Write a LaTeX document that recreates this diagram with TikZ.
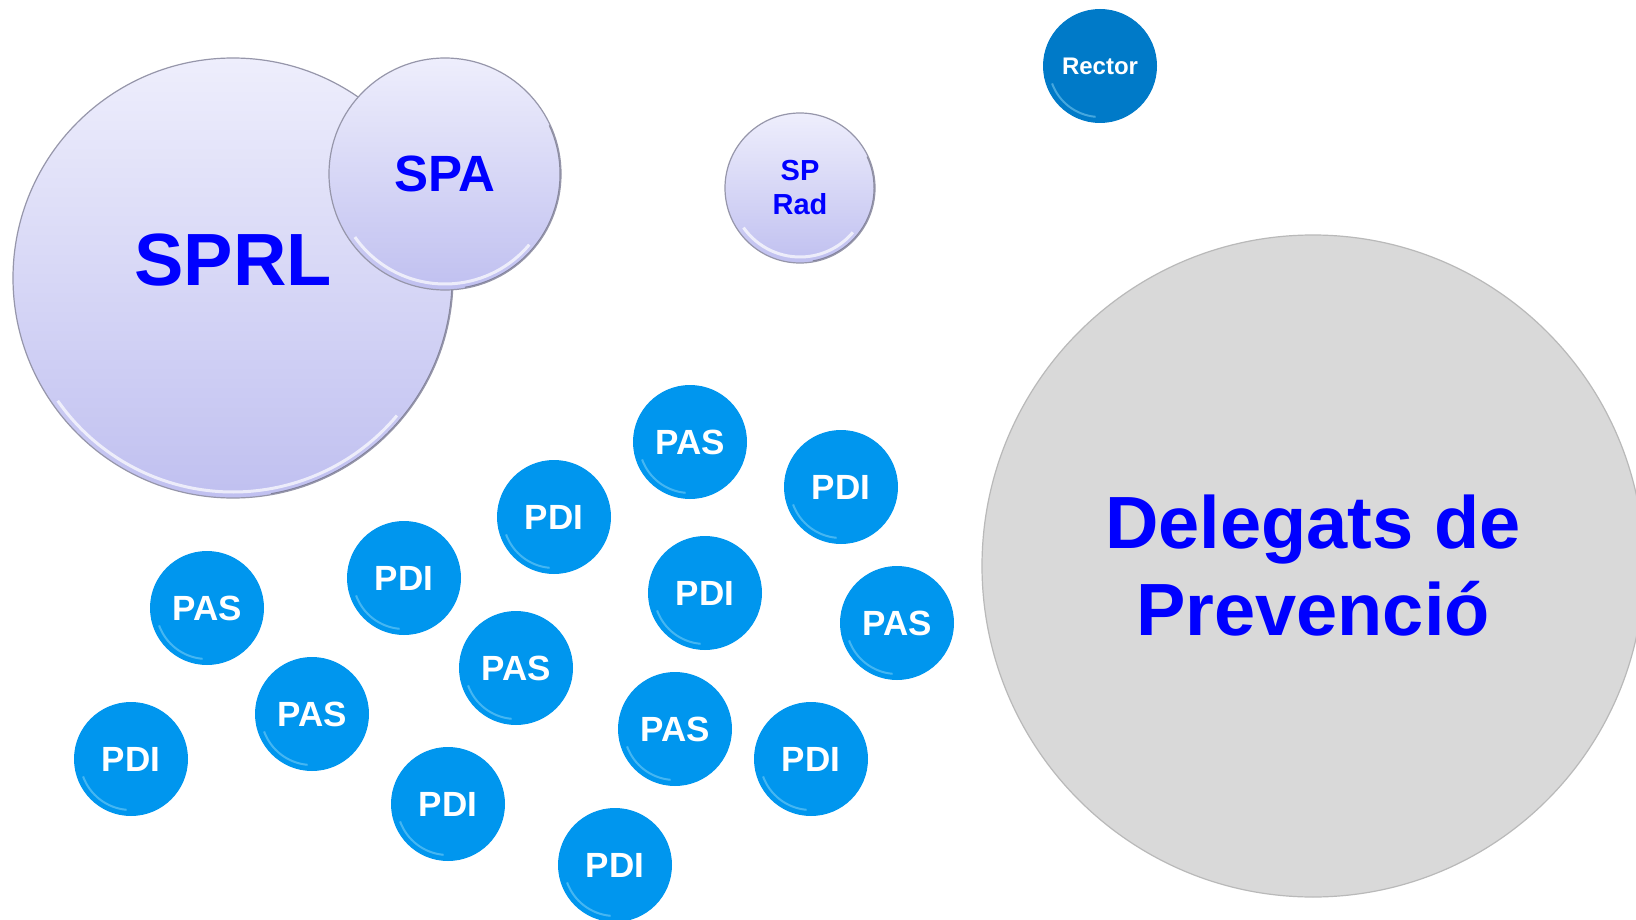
\documentclass[tikz,border=0pt]{standalone}
\usepackage{fontspec}
\setmainfont{Liberation Sans}
\usepackage{tikz}

\definecolor{bubbleblue}{RGB}{0,150,238}
\definecolor{rectorblue}{RGB}{0,122,200}
\definecolor{lavtop}{RGB}{238,238,252}
\definecolor{lavbottom}{RGB}{192,192,240}
\definecolor{lavrim}{RGB}{150,150,170}
\definecolor{lavdark}{RGB}{85,85,100}
\definecolor{delgray}{RGB}{217,217,217}
\definecolor{labelblue}{RGB}{0,0,255}

\tikzset{
	bubble/.style={circle, minimum size=114pt, inner sep=0pt, fill=bubbleblue, text=white,
		font=\fontsize{35}{40}\selectfont\bfseries,
		path picture={\draw[cyan!40!white, line width=2pt, opacity=.45] (path picture bounding box.center) ++(200:51pt) arc[start angle=200, end angle=265, radius=51pt];}},
	glass/.style={circle, minimum size={2*#1pt}, inner sep=0pt, top color=lavtop, bottom color=lavbottom,
		draw=lavrim, line width=1.2pt, text=labelblue,
		path picture={
			\draw[white, line width=3pt, opacity=.7] (path picture bounding box.center) ++(215:{#1pt-6pt}) arc[start angle=215, end angle=320, radius={#1pt-6pt}];
			\draw[lavdark, line width=3pt, opacity=.6] (path picture bounding box.center) ++(-80:{#1pt}) arc[start angle=-80, end angle=25, radius={#1pt}];}},
}

\begin{document}
\begin{tikzpicture}[x=1pt, y=-1pt]
	\useasboundingbox (0,0) rectangle (1636,920);
	\fill[white] (0,0) rectangle (1636,920);

	\node[glass=220] (sprl) at (233,278) {};
	\node[text=labelblue, font=\fontsize{74}{80}\selectfont\bfseries] (sprllabel) at ([yshift=18pt]sprl.center) {SPRL};
	\node[glass=116, font=\fontsize{51}{56}\selectfont\bfseries] (spa) at (445,174) {SPA};
	\node[glass=75, align=center, font=\fontsize{29}{34}\selectfont\bfseries] (sprad) at (800,188) {SP\\Rad};
	\node[bubble, fill=rectorblue, font=\fontsize{24}{28}\selectfont\bfseries] (rector) at (1100,66) {Rector};

	\node[circle, minimum size=662pt, inner sep=0pt, fill=delgray, draw=gray!55, line width=1.2pt,
		text=labelblue, align=center, font=\fontsize{74}{87}\selectfont\bfseries] (delegats) at (1313,566) {Delegats de\\Prevenció};

	\foreach \name/\x/\y/\txt in {pasa/207/608/PAS, pdia/131/759/PDI, pasb/312/714/PAS, pdib/404/578/PDI,
		pasc/516/668/PAS, pdic/448/804/PDI, pdid/554/517/PDI, pasd/690/442/PAS, pdie/841/487/PDI,
		pdif/705/593/PDI, pase/897/623/PAS, pasf/675/729/PAS, pdig/811/759/PDI, pdih/615/865/PDI}
		\node[bubble] (\name) at (\x,\y) {\txt};
\end{tikzpicture}
\end{document}
